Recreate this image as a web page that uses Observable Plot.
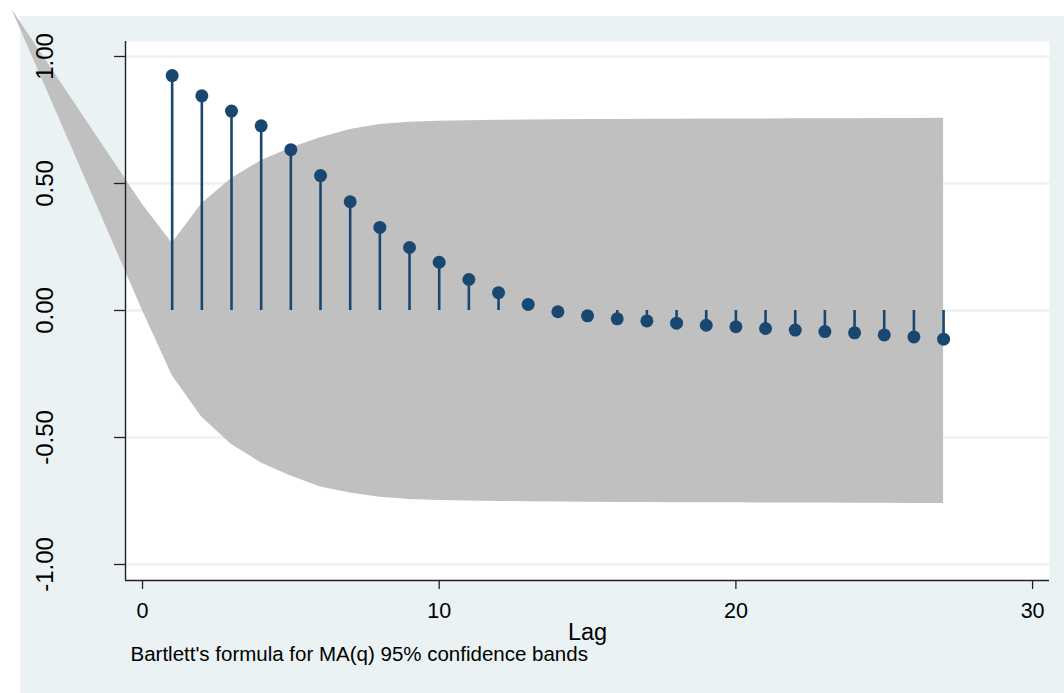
<!DOCTYPE html>
<html>
<head>
<meta charset="utf-8">
<script src="https://cdn.jsdelivr.net/npm/d3@7"></script>
<script src="https://cdn.jsdelivr.net/npm/@observablehq/plot@0.6"></script>
<style>
  html, body { margin: 0; padding: 0; background: #ffffff; }
  #wrap { position: relative; width: 1064px; height: 693px; overflow: hidden; }
  #bg { position: absolute; left: 20px; top: 16px; right: 0; bottom: 0; background: #eaf2f3; }
  #chart { position: absolute; left: 0; top: 0; }
</style>
</head>
<body>
<div id="wrap"><div id="bg"></div><div id="chart"></div></div>
<script>
// Autocorrelations by lag
const lags = [1, 2, 3, 4, 5, 6, 7, 8, 9, 10, 11, 12, 13, 14, 15, 16, 17, 18, 19, 20, 21, 22, 23, 24, 25, 26, 27];
const acf = [0.925, 0.845, 0.785, 0.727, 0.633, 0.531, 0.428, 0.327, 0.248, 0.190, 0.122, 0.070, 0.024, -0.005, -0.021, -0.033, -0.041, -0.050, -0.058, -0.064, -0.071, -0.077, -0.083, -0.088, -0.096, -0.104, -0.113];

// Bartlett confidence band (as drawn, including the leftmost stray vertex)
const bandLags = [-4.4, 0, 1, 2, 3, 4, 5, 6, 7, 8, 9, 10, 11, 12, 13, 14, 15, 16, 17, 18, 19, 20, 21, 22, 23, 24, 25, 26, 27];
const bandUpper = [1.185, 0.417, 0.265, 0.42, 0.52, 0.59, 0.64, 0.68, 0.713, 0.732, 0.741, 0.745, 0.747, 0.749, 0.750, 0.751, 0.752, 0.752, 0.753, 0.753, 0.754, 0.754, 0.754, 0.755, 0.755, 0.755, 0.756, 0.756, 0.757];
const bandLower = [1.185, 0.0, -0.256, -0.42, -0.528, -0.60, -0.652, -0.695, -0.719, -0.735, -0.744, -0.748, -0.750, -0.752, -0.753, -0.754, -0.755, -0.756, -0.756, -0.757, -0.757, -0.757, -0.758, -0.758, -0.758, -0.759, -0.759, -0.760, -0.760];

// Axes
const xTicks = [0, 10, 20, 30];
const xTickLabels = ["0", "10", "20", "30"];
const yTicks = [-1, -0.5, 0, 0.5, 1];
const yTickLabels = ["-1.00", "-0.50", "0.00", "0.50", "1.00"];
const xTitle = "Lag";
const note = "Bartlett's formula for MA(q) 95% confidence bands";

const acfRows = lags.map((l, i) => ({lag: l, acf: acf[i]}));
const bandRows = bandLags.map((l, i) => ({lag: l, upper: bandUpper[i], lower: bandLower[i]}));

const navy = "#1a476f";
const xDomain = [-0.573, 30.57];
const yDomain = [-1.063, 1.059];

const chart = Plot.plot({
  width: 1064,
  height: 693,
  marginLeft: 125,
  marginRight: 15,
  marginTop: 41,
  marginBottom: 113,
  style: {fontFamily: "'Liberation Sans', Arial, Helvetica, sans-serif", background: "transparent", color: "black", overflow: "visible"},
  x: {domain: xDomain, label: null},
  y: {domain: yDomain, label: null},
  marks: [
    Plot.frame({fill: "white", stroke: "none"}),
    Plot.gridY(yTicks, {stroke: "#eaf2f3", strokeOpacity: 1, strokeWidth: 2.5}),
    Plot.areaY(bandRows, {x: "lag", y1: "lower", y2: "upper", fill: "#c0c0c0", curve: "linear"}),
    Plot.ruleX(acfRows, {x: "lag", y1: 0, y2: "acf", stroke: navy, strokeWidth: 2.6}),
    Plot.dot(acfRows, {x: "lag", y: "acf", r: 6.5, fill: navy, stroke: "none"}),
    Plot.ruleX([xDomain[0]], {stroke: "#222", strokeWidth: 1.4}),
    Plot.ruleY([yDomain[0]], {stroke: "#222", strokeWidth: 1.4}),
    Plot.axisY(yTicks, {
      tickSize: 11, tickRotate: -90, tickPadding: 62, fontSize: 24,
      stroke: "#222", strokeWidth: 1.3, fill: "black",
      tickFormat: d => yTickLabels[yTicks.indexOf(d)], label: null
    }),
    Plot.axisX(xTicks, {
      tickSize: 9, tickPadding: 13, fontSize: 21.5,
      stroke: "#222", strokeWidth: 1.3, fill: "black",
      tickFormat: d => xTickLabels[xTicks.indexOf(d)], label: null
    }),
    Plot.text([xTitle], {frameAnchor: "bottom", lineAnchor: "top", dy: 43, fontSize: 23.5, fill: "black"}),
    Plot.text([note], {frameAnchor: "bottom-left", textAnchor: "start", lineAnchor: "top", dx: 5, dy: 66, fontSize: 20.5, fill: "black"})
  ]
});
document.getElementById("chart").appendChild(chart);
</script>
</body>
</html>
